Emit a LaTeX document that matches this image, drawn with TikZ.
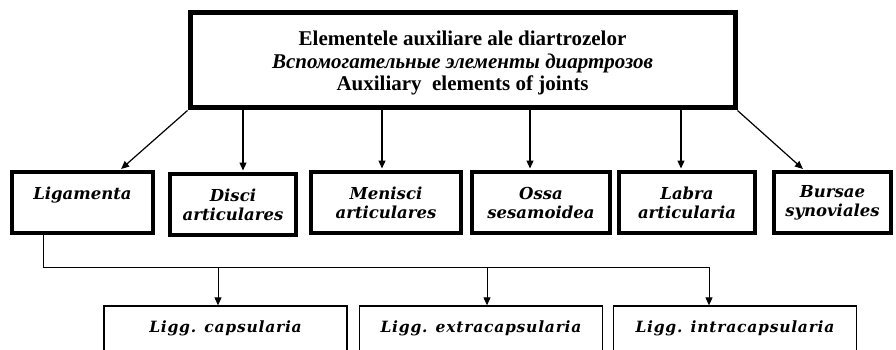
\documentclass[tikz,border=0pt]{standalone}
\usepackage{fontspec}
\setmainfont{Liberation Serif}
\newfontfamily\boxfont{DejaVu Serif}
\newfontfamily\lowfont[LetterSpace=5]{DejaVu Serif}
\usetikzlibrary{arrows.meta}
\begin{document}
\begin{tikzpicture}[x=1pt,y=-1pt,
  topbox/.style={draw,line width=5pt,minimum width=545pt,minimum height=95pt,align=center,inner sep=0pt,font={\fontsize{21pt}{22.5pt}\selectfont\bfseries}},
  midbox/.style={draw,line width=4pt,minimum height=61pt,align=center,inner sep=0pt,font={\boxfont\fontsize{16.5pt}{19pt}\selectfont\bfseries\itshape}},
  lowbox/.style={draw,line width=1.3pt,minimum width=243pt,minimum height=64pt,inner sep=0pt,text height=26pt,text depth=38pt,font={\lowfont\fontsize{15.5pt}{17pt}\selectfont\bfseries\itshape}},
  arr/.style={line width=1.2pt,-{Triangle[length=8pt,width=7pt]},shorten >=1.5pt},
  conn/.style={line width=1pt,-{Triangle[length=8pt,width=7pt]}}]
\clip (0,0) rectangle (896,350);
\fill[white] (0,0) rectangle (896,350);
\node[topbox] (top) at (462.5,60.5) {\rule{0pt}{20pt}Elementele auxiliare ale diartrozelor\\\textit{Вспомогательные элементы диартрозов}\\Auxiliary\ \ elements of joints};
\node[midbox,minimum width=141pt] (liga) at (82.5,202.5) {Ligamenta\\\phantom{a}};
\node[midbox,minimum width=126pt] (disc) at (233,204.5) {Disci\\articulares};
\node[midbox,minimum width=150pt] (meni) at (386,202.5) {Menisci\\articulares};
\node[midbox,minimum width=138pt] (ossa) at (541,202.5) {Ossa\\sesamoidea};
\node[midbox,minimum width=136pt] (labr) at (687,202.5) {Labra\\articularia};
\node[midbox,minimum width=117pt] (burs) at (832.5,202.5) {Bursae\\synoviales};
\draw[arr] (top.south west) -- ([xshift=37.5pt]liga.north);
\draw[arr] ([xshift=10pt]disc.north |- top.south) -- ([xshift=10pt]disc.north);
\draw[arr] ([xshift=-4pt]meni.north |- top.south) -- ([xshift=-4pt]meni.north);
\draw[arr] ([xshift=-11pt]ossa.north |- top.south) -- ([xshift=-11pt]ossa.north);
\draw[arr] ([xshift=-6pt]labr.north |- top.south) -- ([xshift=-6pt]labr.north);
\draw[arr] (top.south east) -- ([xshift=-28.5pt]burs.north);
\node[lowbox] (caps) at (225.5,338) {Ligg. capsularia};
\node[lowbox] (extr) at (481,338) {Ligg. extracapsularia};
\node[lowbox] (intr) at (735,338) {Ligg. intracapsularia};
\coordinate (bus) at (0,267);
\draw[conn] ([xshift=-39.5pt]liga.south) |- ([xshift=-26pt]intr.north |- bus) -- ([xshift=-26pt]intr.north);
\draw[conn] ([xshift=-7.5pt]caps.north |- bus) -- ([xshift=-7.5pt]caps.north);
\draw[conn] ([xshift=6pt]extr.north |- bus) -- ([xshift=6pt]extr.north);
\end{tikzpicture}
\end{document}
